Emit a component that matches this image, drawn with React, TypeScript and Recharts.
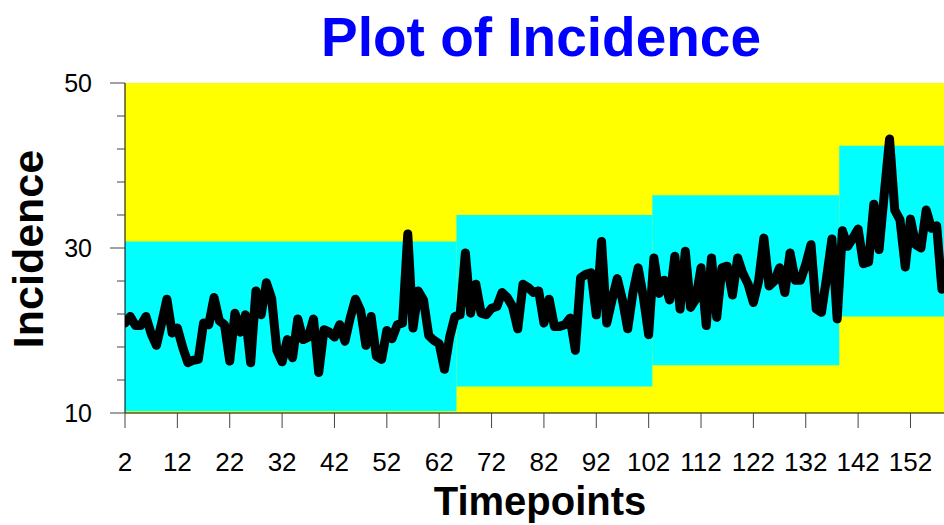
import React from 'react';
import { LineChart, Line, XAxis, YAxis, ReferenceArea } from 'recharts';

const FIRST_TIMEPOINT = 2;

// incidence per timepoint, starting at timepoint 2
const INCIDENCE = [
  20.9, 21.7, 20.6, 20.6, 21.7, 19.6, 18.2, 20.9, 23.8, 19.7,
  20.3, 18.0, 16.1, 16.4, 16.5, 20.9, 20.7, 24.0, 21.2, 20.7,
  16.3, 22.1, 19.8, 21.9, 16.1, 24.8, 21.9, 25.8, 23.9, 17.6,
  16.2, 18.9, 16.7, 21.4, 18.9, 19.2, 21.4, 14.9, 20.1, 19.8,
  19.2, 20.7, 18.7, 21.5, 23.8, 22.4, 18.2, 21.7, 16.9, 16.5,
  20.0, 19.0, 20.7, 20.9, 31.7, 20.3, 24.8, 23.7, 19.4, 18.8,
  18.4, 15.3, 19.2, 21.7, 21.9, 29.4, 22.1, 25.6, 22.1, 21.9,
  22.7, 22.9, 24.6, 24.0, 22.9, 20.2, 25.6, 25.2, 24.6, 24.8,
  20.9, 23.8, 20.5, 20.5, 20.7, 21.5, 17.6, 26.4, 26.8, 27.0,
  21.9, 30.8, 20.9, 23.7, 26.3, 23.7, 20.2, 24.6, 27.6, 24.0,
  19.5, 28.8, 24.5, 26.1, 23.7, 29.0, 22.6, 29.6, 22.8, 23.8,
  27.6, 20.6, 28.8, 21.6, 27.6, 27.8, 24.3, 28.8, 26.9, 25.6,
  23.4, 26.0, 31.2, 25.4, 26.0, 27.6, 24.6, 29.4, 26.1, 26.1,
  28.0, 30.4, 22.6, 22.2, 26.5, 31.1, 21.4, 32.1, 30.2, 31.2,
  32.3, 28.1, 28.3, 35.3, 29.8, 36.6, 43.2, 34.6, 33.4, 27.7,
  33.5, 30.4, 30.0, 34.6, 32.4, 32.7, 25.0,
];

// control bands (cyan boxes)
const BAND_START = [2, 65.3, 102.7, 138.4];
const BAND_END = [65.3, 102.7, 138.4, 158.4];
const BAND_LOW = [10.2, 13.2, 15.8, 21.7];
const BAND_HIGH = [30.8, 34.0, 36.4, 42.4];

const X_TICKS = [2, 12, 22, 32, 42, 52, 62, 72, 82, 92, 102, 112, 122, 132, 142, 152];
const Y_TICKS = [10, 14, 18, 22, 26, 30, 34, 38, 42, 46, 50];
const Y_LABELLED = [10, 30, 50];

const FONT = "'Liberation Sans', Arial, sans-serif";

const data = INCIDENCE.map((v, i) => ({ t: FIRST_TIMEPOINT + i, v }));

function XTick(props: any) {
  const { x, payload } = props;
  return (
    <g>
      <line x1={x} x2={x} y1={413} y2={428} stroke="#444" />
      <text x={x} y={471} textAnchor="middle" fontSize={26} fontFamily={FONT} fill="#000">
        {payload.value}
      </text>
    </g>
  );
}

function YTick(props: any) {
  const { y, payload } = props;
  const major = Y_LABELLED.includes(payload.value);
  return (
    <g>
      <line x1={125 - (major ? 15 : 8)} x2={125} y1={y} y2={y} stroke="#444" />
      {major && (
        <text x={92} y={y} dy="0.36em" textAnchor="end" fontSize={25} fontFamily={FONT} fill="#000">
          {payload.value}
        </text>
      )}
    </g>
  );
}

export default function App() {
  return (
    <div style={{ position: 'absolute', left: 0, top: 0, width: 944, height: 525 }}>
      <LineChart width={944} height={525} data={data} margin={{ top: 83, right: 0, bottom: 0, left: 0 }}>
        <ReferenceArea x1={2} x2={158.4} y1={10} y2={50} fill="#ffff00" fillOpacity={1} stroke="none" />
        {BAND_START.map((s, i) => (
          <ReferenceArea
            key={i}
            x1={s}
            x2={BAND_END[i]}
            y1={BAND_LOW[i]}
            y2={BAND_HIGH[i]}
            fill="#00ffff"
            fillOpacity={1}
            stroke="none"
          />
        ))}
        <XAxis
          dataKey="t"
          type="number"
          domain={[2, 158.4]}
          allowDataOverflow
          ticks={X_TICKS}
          interval={0}
          height={112}
          tickLine={false}
          axisLine={{ stroke: '#000' }}
          tick={<XTick />}
        />
        <YAxis
          type="number"
          domain={[10, 50]}
          ticks={Y_TICKS}
          interval={0}
          width={125}
          tickLine={false}
          axisLine={{ stroke: '#000' }}
          tick={<YTick />}
        />
        <Line
          dataKey="v"
          type="linear"
          stroke="#000"
          strokeWidth={9}
          strokeLinejoin="round"
          strokeLinecap="round"
          dot={false}
          isAnimationActive={false}
        />
      </LineChart>
      <svg width={944} height={525} style={{ position: 'absolute', left: 0, top: 0, pointerEvents: 'none' }}>
        <text x={541} y={56} textAnchor="middle" fontSize={55} fontWeight="bold" fontFamily={FONT} fill="#0000ff">
          Plot of Incidence
        </text>
        <text x={540} y={515} textAnchor="middle" fontSize={40} fontWeight="bold" fontFamily={FONT} fill="#000">
          Timepoints
        </text>
        <text
          transform="translate(43,249) rotate(-90)"
          textAnchor="middle"
          fontSize={43}
          fontWeight="bold"
          fontFamily={FONT}
          fill="#000"
        >
          Incidence
        </text>
      </svg>
    </div>
  );
}
